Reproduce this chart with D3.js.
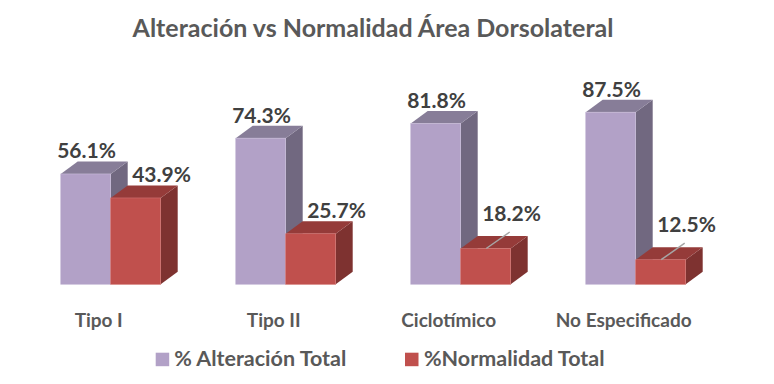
<!DOCTYPE html>
<html>
<head>
<meta charset="utf-8">
<script src="https://cdn.jsdelivr.net/npm/d3@7"></script>
<style>
  body { margin: 0; background: #fff; }
  svg { display: block; font-family: Lato, "Open Sans", sans-serif; }
</style>
</head>
<body>
<div id="chart"></div>
<script>
const categories = ["Tipo I", "Tipo II", "Ciclotímico", "No Especificado"]
const alteracion = [56.1, 74.3, 81.8, 87.5]
const normalidad = [43.9, 25.7, 18.2, 12.5]
const seriesNames = ["% Alteración Total", "%Normalidad Total"]
const title = "Alteración vs Normalidad Área Dorsolateral"

const width = 774, height = 384
const depth = { dx: 17, dy: -12.5 }

// front, top, side colours per series
const palette = [
    { front: "#b2a1c7", top: "#877d98", side: "#716880", stroke: "#c9bdd9" },
    { front: "#c0504d", top: "#953b39", side: "#7e3230", stroke: "#d27371" }
]

const svg = d3.select("#chart")
    .append("svg")
    .attr("width", width)
    .attr("height", height)

svg.append("text")
    .attr("x", 373)
    .attr("y", 37)
    .attr("text-anchor", "middle")
    .attr("font-size", 25)
    .attr("font-weight", "bold")
    .attr("fill", "#595959")
    .text(title)

/* SCALES */
const x = d3.scaleBand()
    .domain(categories)
    .range([23.2, 723.2])
    .paddingInner(75 / 175)
    .paddingOuter(75 / 350)

const sub = d3.scaleBand()
    .domain([0, 1])
    .range([0, x.bandwidth()])

const y = d3.scaleLinear()
    .domain([0, 100])
    .range([284.3, 87.6])

const rows = categories.map((c, i) => ({ cat: c, values: [alteracion[i], normalidad[i]] }))

const bars = svg.append("g")

rows.forEach(row => {
    row.values.forEach((v, s) => {
        const x0 = x(row.cat) + sub(s)
        const x1 = x0 + sub.bandwidth()
        const yt = y(v)
        const yb = y(0)
        const c = palette[s]
        const g = bars.append("g")

        // side face
        g.append("path")
            .attr("d", `M${x1},${yt} L${x1 + depth.dx},${yt + depth.dy} L${x1 + depth.dx},${yb + depth.dy} L${x1},${yb} Z`)
            .attr("fill", c.side)
        // top face
        g.append("path")
            .attr("d", `M${x0},${yt} L${x0 + depth.dx},${yt + depth.dy} L${x1 + depth.dx},${yt + depth.dy} L${x1},${yt} Z`)
            .attr("fill", c.top)
        // front face
        g.append("rect")
            .attr("x", x0)
            .attr("y", yt)
            .attr("width", x1 - x0)
            .attr("height", yb - yt)
            .attr("fill", c.front)
            .attr("stroke", c.stroke)
            .attr("stroke-width", 0.6)
    })
})

/* DATA LABELS */
const labels = svg.append("g")
    .attr("font-size", 21)
    .attr("font-weight", "bold")
    .attr("fill", "#404040")

rows.forEach(row => {
    row.values.forEach((v, s) => {
        const x0 = x(row.cat) + sub(s)
        const cx = x0 + sub.bandwidth() / 2
        const backTop = y(v) + depth.dy
        let lx = s === 0 ? x0 - 3.5 : cx - 3.5
        let ly = backTop - 3
        if (s === 1 && v < 20) {
            ly -= 12
            labels.append("line")
                .attr("x1", cx + 0.5)
                .attr("y1", y(v))
                .attr("x2", cx + 24)
                .attr("y2", ly + 11)
                .attr("stroke", "#a6a6a6")
                .attr("stroke-width", 1.5)
        }
        labels.append("text")
            .attr("x", lx)
            .attr("y", ly)
            .text(v.toFixed(1) + "%")
    })
})

/* CATEGORY LABELS */
svg.append("g")
    .selectAll("text")
    .data(categories)
    .join("text")
    .attr("x", d => x(d) + x.bandwidth() / 2 - 12)
    .attr("y", 327)
    .attr("text-anchor", "middle")
    .attr("font-size", 19)
    .attr("font-weight", "bold")
    .attr("fill", "#595959")
    .text(d => d)

/* LEGEND */
const legendX = [155.7, 405]
const legend = svg.append("g")
    .selectAll("g")
    .data(seriesNames)
    .join("g")
    .attr("transform", (d, i) => `translate(${legendX[i]}, 352.7)`)

legend.append("rect")
    .attr("width", 13.5)
    .attr("height", 13.5)
    .attr("fill", (d, i) => palette[i].front)

legend.append("text")
    .attr("x", (d, i) => i === 0 ? 18.5 : 19)
    .attr("y", 13.5)
    .attr("font-size", 21.5)
    .attr("font-weight", "bold")
    .attr("fill", "#595959")
    .text(d => d)
</script>
</body>
</html>
